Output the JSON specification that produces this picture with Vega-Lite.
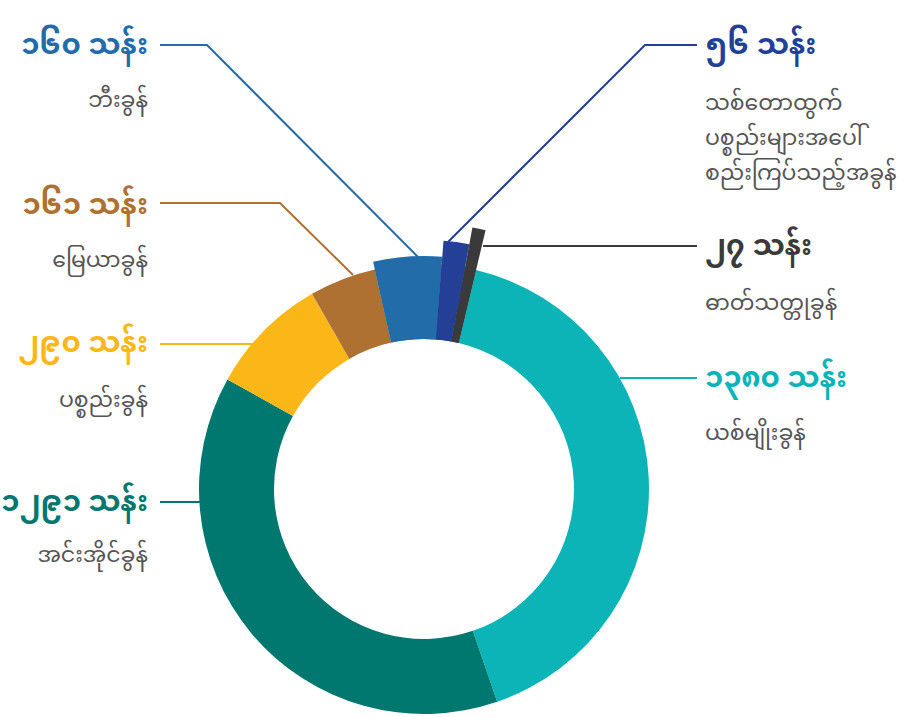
{
  "$schema": "https://vega.github.io/schema/vega-lite/v6.json",
  "width": 918,
  "height": 717,
  "padding": 0,
  "autosize": {"type": "none"},
  "background": "white",
  "config": {"view": {"stroke": null}},
  "datasets": {
    "slices": [
      {"rank": 1, "cat": "သစ်တော", "amount": 56, "num": "၅၆ သန်း", "sub": "သစ်တောထွက်\nပစ္စည်းများအပေါ်\nစည်းကြပ်သည့်အခွန်", "side": "R", "lx": 281, "ly": 444, "sy": 386},
      {"rank": 2, "cat": "ဓာတ်သတ္တု", "amount": 27, "num": "၂၇ သန်း", "sub": "ဓာတ်သတ္တုခွန်", "side": "R", "lx": 281, "ly": 243, "sy": 186},
      {"rank": 3, "cat": "ယစ်မျိုး", "amount": 1380, "num": "၁၃၈၀ သန်း", "sub": "ယစ်မျိုးခွန်", "side": "R", "lx": 281, "ly": 111, "sy": 56},
      {"rank": 4, "cat": "အင်းအိုင်", "amount": 1291, "num": "၁၂၉၁ သန်း", "sub": "အင်းအိုင်ခွန်", "side": "L", "lx": -276, "ly": -13, "sy": -66},
      {"rank": 5, "cat": "ပစ္စည်း", "amount": 290, "num": "၂၉၀ သန်း", "sub": "ပစ္စည်းခွန်", "side": "L", "lx": -276, "ly": 146, "sy": 89},
      {"rank": 6, "cat": "မြေယာ", "amount": 161, "num": "၁၆၁ သန်း", "sub": "မြေယာခွန်", "side": "L", "lx": -276, "ly": 284, "sy": 229},
      {"rank": 7, "cat": "ဘီး", "amount": 160, "num": "၁၆၀ သန်း", "sub": "ဘီးခွန်", "side": "L", "lx": -276, "ly": 444, "sy": 389}
    ],
    "leaders": [
      {"cat": "ဘီး", "seq": 1, "x": -264, "y": 444},
      {"cat": "ဘီး", "seq": 2, "x": -217, "y": 444},
      {"cat": "ဘီး", "seq": 3, "x": -5, "y": 231},
      {"cat": "သစ်တော", "seq": 1, "x": 24, "y": 247},
      {"cat": "သစ်တော", "seq": 2, "x": 221, "y": 444},
      {"cat": "သစ်တော", "seq": 3, "x": 273, "y": 444},
      {"cat": "ဓာတ်သတ္တု", "seq": 1, "x": 59, "y": 243},
      {"cat": "ဓာတ်သတ္တု", "seq": 2, "x": 273, "y": 243},
      {"cat": "ယစ်မျိုး", "seq": 1, "x": 196, "y": 111},
      {"cat": "ယစ်မျိုး", "seq": 2, "x": 273, "y": 111},
      {"cat": "မြေယာ", "seq": 1, "x": -264, "y": 286},
      {"cat": "မြေယာ", "seq": 2, "x": -144, "y": 286},
      {"cat": "မြေယာ", "seq": 3, "x": -71, "y": 214},
      {"cat": "ပစ္စည်း", "seq": 1, "x": -264, "y": 145},
      {"cat": "ပစ္စည်း", "seq": 2, "x": -164, "y": 145},
      {"cat": "အင်းအိုင်", "seq": 1, "x": -264, "y": -13},
      {"cat": "အင်းအိုင်", "seq": 2, "x": -224, "y": -13}
    ]
  },
  "resolve": {"scale": {"color": "shared"}},
  "layer": [
    {
      "data": {"name": "slices"},
      "mark": {"type": "arc", "innerRadius": 150, "outerRadius": 225},
      "encoding": {
        "x": {"datum": 0, "type": "quantitative", "scale": {"domain": [-424, 494], "nice": false, "zero": false}, "axis": null},
        "y": {"datum": 0, "type": "quantitative", "scale": {"domain": [-228, 489], "nice": false, "zero": false}, "axis": null},
        "theta": {"field": "amount", "type": "quantitative", "stack": true, "scale": {"range": [0.0785, 6.3617]}},
        "order": {"field": "rank"},
        "color": {"field": "cat", "type": "nominal", "legend": null,
          "scale": {"domain": ["သစ်တော", "ဓာတ်သတ္တု", "ယစ်မျိုး", "အင်းအိုင်", "ပစ္စည်း", "မြေယာ", "ဘီး"],
                    "range": ["#233F96", "#3A3A3A", "#0DB4B7", "#00786F", "#FBB617", "#AE7131", "#226CA9"]}}
      }
    },
    {
      "data": {"name": "slices"},
      "mark": {"type": "arc", "innerRadius": 150, "outerRadius": 233},
      "encoding": {
        "x": {"datum": 0, "type": "quantitative"},
        "y": {"datum": 0, "type": "quantitative"},
        "theta": {"field": "amount", "type": "quantitative", "stack": true},
        "order": {"field": "rank"},
        "color": {"field": "cat", "type": "nominal", "legend": null},
        "opacity": {"condition": {"test": "datum.cat === 'ဘီး'", "value": 1}, "value": 0}
      }
    },
    {
      "data": {"name": "slices"},
      "mark": {"type": "arc", "innerRadius": 150, "outerRadius": 249},
      "encoding": {
        "x": {"datum": 0, "type": "quantitative"},
        "y": {"datum": 0, "type": "quantitative"},
        "theta": {"field": "amount", "type": "quantitative", "stack": true},
        "order": {"field": "rank"},
        "color": {"field": "cat", "type": "nominal", "legend": null},
        "opacity": {"condition": {"test": "datum.cat === 'သစ်တော'", "value": 1}, "value": 0}
      }
    },
    {
      "data": {"name": "slices"},
      "mark": {"type": "arc", "innerRadius": 150, "outerRadius": 266},
      "encoding": {
        "x": {"datum": 0, "type": "quantitative"},
        "y": {"datum": 0, "type": "quantitative"},
        "theta": {"field": "amount", "type": "quantitative", "stack": true},
        "order": {"field": "rank"},
        "color": {"field": "cat", "type": "nominal", "legend": null},
        "opacity": {"condition": {"test": "datum.cat === 'ဓာတ်သတ္တု'", "value": 1}, "value": 0}
      }
    },
    {
      "data": {"name": "leaders"},
      "mark": {"type": "line", "strokeWidth": 2},
      "encoding": {
        "x": {"field": "x", "type": "quantitative"},
        "y": {"field": "y", "type": "quantitative"},
        "order": {"field": "seq"},
        "detail": {"field": "cat"},
        "color": {"field": "cat", "type": "nominal", "legend": null}
      }
    },
    {
      "data": {"name": "slices"},
      "transform": [{"filter": "datum.side === 'L'"}],
      "mark": {"type": "text", "align": "right", "baseline": "middle", "fontSize": 29, "fontWeight": "bold", "font": "Noto Sans Myanmar, sans-serif"},
      "encoding": {
        "x": {"field": "lx", "type": "quantitative"},
        "y": {"field": "ly", "type": "quantitative"},
        "text": {"field": "num"},
        "color": {"field": "cat", "type": "nominal", "legend": null}
      }
    },
    {
      "data": {"name": "slices"},
      "transform": [{"filter": "datum.side === 'R'"}],
      "mark": {"type": "text", "align": "left", "baseline": "middle", "fontSize": 29, "fontWeight": "bold", "font": "Noto Sans Myanmar, sans-serif"},
      "encoding": {
        "x": {"field": "lx", "type": "quantitative"},
        "y": {"field": "ly", "type": "quantitative"},
        "text": {"field": "num"},
        "color": {"field": "cat", "type": "nominal", "legend": null}
      }
    },
    {
      "data": {"name": "slices"},
      "transform": [{"filter": "datum.side === 'L'"}],
      "mark": {"type": "text", "align": "right", "baseline": "middle", "fontSize": 22, "color": "#555555", "font": "Noto Sans Myanmar, sans-serif"},
      "encoding": {
        "x": {"field": "lx", "type": "quantitative"},
        "y": {"field": "sy", "type": "quantitative"},
        "text": {"field": "sub"}
      }
    },
    {
      "data": {"name": "slices"},
      "transform": [{"filter": "datum.side === 'R'"}],
      "mark": {"type": "text", "align": "left", "baseline": "middle", "fontSize": 22, "lineBreak": "\n", "lineHeight": 35, "color": "#555555", "font": "Noto Sans Myanmar, sans-serif"},
      "encoding": {
        "x": {"field": "lx", "type": "quantitative"},
        "y": {"field": "sy", "type": "quantitative"},
        "text": {"field": "sub"}
      }
    }
  ]
}
